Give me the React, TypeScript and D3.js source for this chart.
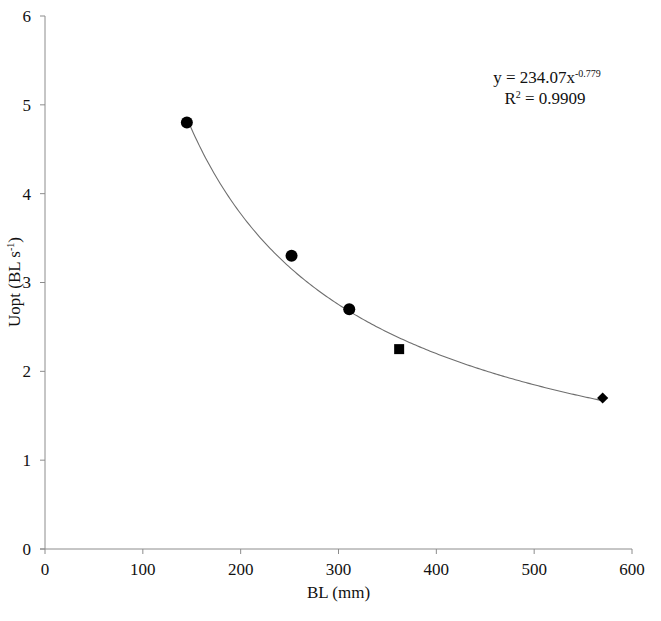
import React from "react";
import * as d3 from "d3";

const circleX = [145, 252, 311];
const circleY = [4.8, 3.3, 2.7];
const squareX = [362];
const squareY = [2.25];
const diamondX = [570];
const diamondY = [1.7];
const xTicks = [0, 100, 200, 300, 400, 500, 600];
const yTicks = [0, 1, 2, 3, 4, 5, 6];
const fitA = 234.07;
const fitB = -0.779;
const fitRange = [145, 570];

const W = 661, H = 621;
const font = "Liberation Serif, DejaVu Serif, serif";

export default function App() {
  const x = d3.scaleLinear().domain([0, 600]).range([45, 632]);
  const y = d3.scaleLinear().domain([0, 6]).range([549, 16]);
  const axisColor = "#8c8c8c";
  const fitPts = d3.range(0, 201).map((i) => {
    const xv = fitRange[0] + (fitRange[1] - fitRange[0]) * (i / 200);
    return [xv, fitA * Math.pow(xv, fitB)] as [number, number];
  });
  const line = d3.line<[number, number]>().x((d) => x(d[0])).y((d) => y(d[1]));
  const diamond = d3.symbol().type(d3.symbolDiamond2).size(80)();
  const ts = { fontFamily: font, fontSize: 17, fill: "#111" } as React.CSSProperties;
  return (
    <svg width={W} height={H} style={{ position: "absolute", left: 0, top: 0, background: "#fff" }}>
      <line x1={x(0)} x2={x(0)} y1={y(6)} y2={y(0)} stroke={axisColor} strokeWidth={1} />
      <line x1={x(0) - 5} x2={x(600)} y1={y(0)} y2={y(0)} stroke={axisColor} strokeWidth={1} />
      {yTicks.map((t) => (
        <g key={"y" + t}>
          <line x1={x(0) - 5} x2={x(0)} y1={y(t)} y2={y(t)} stroke={axisColor} />
          <text x={31} y={y(t)} dy="0.35em" textAnchor="end" style={ts}>{t}</text>
        </g>
      ))}
      {xTicks.map((t) => (
        <g key={"x" + t}>
          <line x1={x(t)} x2={x(t)} y1={y(0)} y2={y(0) + 5} stroke={axisColor} />
          <text x={x(t)} y={575} textAnchor="middle" style={ts}>{t}</text>
        </g>
      ))}
      <text x={x(300)} y={598} textAnchor="middle" style={ts}>BL (mm)</text>
      <text transform="translate(20,282) rotate(-90)" textAnchor="middle" style={ts}>
        Uopt (BL s<tspan dy="-6" style={{ fontSize: 10 }}>-1</tspan><tspan dy="6">)</tspan>
      </text>
      <path d={line(fitPts) || ""} fill="none" stroke="#6e6e6e" strokeWidth={1.1} />
      {circleX.map((v, i) => (
        <circle key={"c" + i} cx={x(v)} cy={y(circleY[i])} r={6} fill="#000" />
      ))}
      {squareX.map((v, i) => (
        <rect key={"s" + i} x={x(v) - 5} y={y(squareY[i]) - 5} width={10} height={10} fill="#000" />
      ))}
      {diamondX.map((v, i) => (
        <path key={"d" + i} d={diamond || ""} transform={`translate(${x(v)},${y(diamondY[i])})`} fill="#000" />
      ))}
      <text x={547} y={83} textAnchor="middle" style={ts}>
        y = 234.07x<tspan dy="-6" style={{ fontSize: 10 }}>-0.779</tspan>
      </text>
      <text x={545} y={104} textAnchor="middle" style={ts}>
        R<tspan dy="-6" style={{ fontSize: 10 }}>2</tspan><tspan dy="6"> = 0.9909</tspan>
      </text>
    </svg>
  );
}
